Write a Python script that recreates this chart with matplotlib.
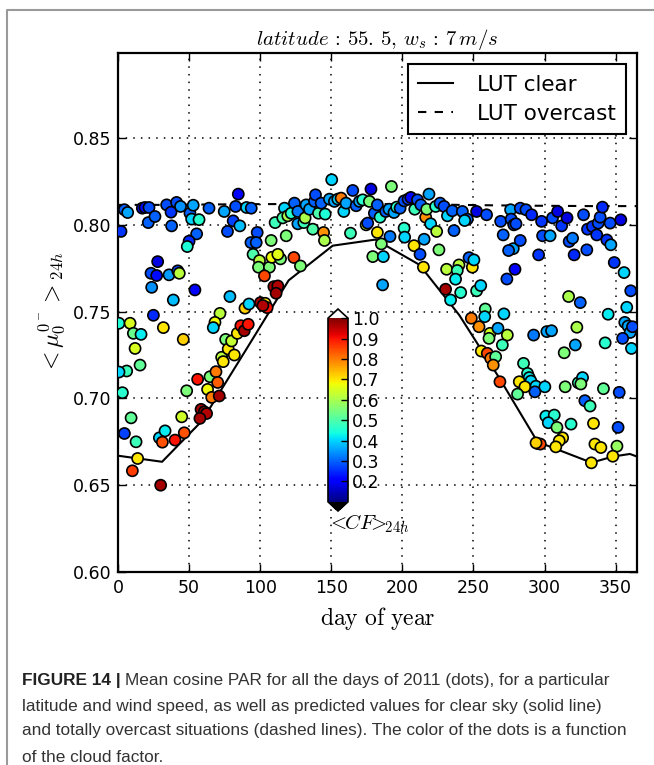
import numpy as np
import matplotlib
matplotlib.use('Agg')
import matplotlib.pyplot as plt
from matplotlib.lines import Line2D

plt.rcParams['mathtext.fontset'] = 'cm'
plt.rcParams['font.family'] = ['DejaVu Sans']

# LUT curves
lut_days = [0, 31, 59, 90, 120, 151, 181, 212, 240, 268, 295, 333, 348, 360, 365]
lut_clear = [0.667, 0.6635, 0.687, 0.728, 0.768, 0.788, 0.7915, 0.777, 0.748,
             0.712, 0.675, 0.663, 0.6665, 0.668, 0.6665]
lut_overcast = [0.8115, 0.8115, 0.8117, 0.8119, 0.812, 0.812, 0.812, 0.8118,
                0.8115, 0.8112, 0.811, 0.8108, 0.8108, 0.8108, 0.8108]

# daily values (dots): day, mean cosine, cloud factor
day_of_year = [
    4.5, 6.8, 17.1, 19.0, 21.8, 21.3, 26.0, 34.2, 37.3, 41.2, 44.0, 37.7, 50.6, 51.8, 57.0,
    55.3, 50.0, 48.7, 52.9, 64.0, 74.7, 81.0, 82.7, 84.6, 85.7, 77.0, 90.4, 93.5, 95.0, 2.1,
    27.9, 23.2, 27.2, 35.9, 42.0, 43.1, 23.7, 38.9, 54.1, 78.7, 24.9, 0.7, 8.5, 10.8, 16.2,
    12.0, 31.9, 45.9, 15.5, 6.1, 0.7, 3.1, 9.2, 4.5, 12.7, 13.8, 10.1, 30.0, 29.1, 33.1,
    31.2, 40.1, 46.6, 44.8, 48.3, 56.0, 58.4, 60.7, 62.3, 57.6, 63.0, 64.7, 65.9, 68.9, 70.1,
    71.2, 72.9, 74.0, 75.7, 77.5, 79.9, 81.8, 83.9, 71.7, 68.2, 67.0, 86.4, 88.8, 91.6, 89.3,
    92.1,
    93.7, 97.9, 97.2, 99.5, 98.8, 106.5, 103.0, 107.7, 110.5, 108.2, 114.3, 112.4, 118.3, 123.7,
    128.3, 109.6, 112.4, 111.2, 100.2, 103.5, 104.9, 101.9, 117.1, 115.9, 119.4, 121.8, 124.1,
    126.5, 126.5, 130.7, 131.6, 132.3, 134.7, 138.2, 138.9, 141.0, 142.9, 137.0, 144.6, 145.2,
    145.7, 148.7, 150.3, 152.2, 154.6, 156.9, 158.8, 160.4, 163.5, 165.1, 167.5, 169.8, 172.1,
    174.5, 175.6, 177.9, 176.8, 179.2, 180.3, 186.1,
    192.3, 182.4, 184.3, 188.3, 190.6, 194.1, 196.0, 198.4, 201.2, 204.0, 205.9, 208.7, 210.6,
    213.0, 216.4, 217.1, 218.7, 219.9, 224.1, 223.4, 226.5, 229.3, 231.7, 235.1, 236.3, 242.2,
    245.7, 243.8, 252.2, 259.2, 269.1, 270.9, 276.1, 276.5, 278.4, 191.3, 201.2, 201.6, 185.2,
    186.6, 182.4, 208.2, 212.4, 215.3, 225.7, 214.8, 231.1, 239.8, 238.6, 237.4, 249.2, 246.9,
    250.3, 230.4, 233.9, 241.0, 252.2, 255.1, 258.3, 257.9, 248.5, 253.9, 261.6, 260.9, 267.2,
    271.4, 273.8, 270.3, 255.5, 259.7, 262.1, 265.6, 263.9, 268.6,
    279.9, 282.9, 286.9, 290.9, 297.9, 298.6, 303.9, 305.6, 309.2, 312.0, 315.8, 317.3, 319.7,
    320.8, 327.4, 329.7, 330.2, 333.7, 336.7, 337.7, 339.1, 340.7, 343.8, 346.1, 346.6, 349.0,
    353.6, 355.9, 360.6, 357.8, 356.4, 358.7, 360.2, 361.8, 354.9, 361.1, 344.7, 342.6, 352.5,
    341.4, 278.0, 274.7, 279.2, 273.5, 282.9, 295.8, 292.3, 301.6, 304.9, 316.9, 325.1, 322.7,
    321.6, 313.8, 285.2, 288.0, 289.2, 290.4, 282.2, 286.2, 281.0, 293.9, 293.2, 300.2, 314.5,
    323.7, 326.7, 325.5, 328.3, 332.0, 300.9, 306.8, 302.6, 308.7, 318.6, 334.4, 351.7, 312.7,
    310.3, 307.9, 335.4, 339.6, 350.9, 295.1, 297.0, 294.0, 332.9, 348.0,
]
mu_24h = [
    0.8087, 0.8071, 0.8096, 0.8100, 0.8100, 0.8013, 0.8048, 0.8115, 0.8073, 0.8129, 0.8106,
    0.7994, 0.8067, 0.8033, 0.8030, 0.7948, 0.7906, 0.7875, 0.8113, 0.8096, 0.8077, 0.8023,
    0.8106, 0.8177, 0.7994, 0.7962, 0.8100, 0.7898, 0.7830, 0.7962, 0.7788, 0.7721, 0.7708,
    0.7712, 0.7735, 0.7721, 0.7640, 0.7567, 0.7625, 0.7587, 0.7479, 0.7433, 0.7433, 0.7375,
    0.7369, 0.7288, 0.7408, 0.7340, 0.7192, 0.7158, 0.7152, 0.7033, 0.6888, 0.6798, 0.6750,
    0.6654, 0.6583, 0.6500, 0.6773, 0.6813, 0.6748, 0.6760, 0.6802, 0.6894, 0.7044, 0.7110,
    0.6937, 0.6923, 0.6913, 0.6885, 0.7052, 0.7125, 0.7006, 0.7154, 0.7092, 0.7014, 0.7237,
    0.7212, 0.7340, 0.7285, 0.7331, 0.7250, 0.7375, 0.7490, 0.7438, 0.7408, 0.7419, 0.7390,
    0.7427, 0.7520, 0.7544,
    0.8096, 0.7956, 0.7898, 0.7794, 0.7756, 0.7756, 0.7706, 0.7910, 0.8013, 0.7813, 0.7804,
    0.7830, 0.7937, 0.7812, 0.7763, 0.7644, 0.7648, 0.7606, 0.7552, 0.7548, 0.7523, 0.7535,
    0.8096, 0.8040, 0.8052, 0.8067, 0.8125, 0.8077, 0.8006, 0.8013, 0.8040, 0.8115, 0.8090,
    0.8135, 0.8173, 0.8067, 0.8125, 0.7975, 0.7956, 0.7910, 0.8062, 0.8148, 0.8260, 0.8135,
    0.8148, 0.8154, 0.8077, 0.8125, 0.7952, 0.8198, 0.8110, 0.8135, 0.8144, 0.8000, 0.8010,
    0.8206, 0.8135, 0.7817, 0.8067, 0.7654,
    0.8221, 0.8115, 0.8044, 0.8077, 0.8090, 0.8071, 0.8102, 0.8096, 0.8138, 0.8148, 0.8158,
    0.8090, 0.8144, 0.8115, 0.8044, 0.8090, 0.8177, 0.8006, 0.7962, 0.8106, 0.8125, 0.8106,
    0.8052, 0.8081, 0.7967, 0.8077, 0.8033, 0.8025, 0.8077, 0.8058, 0.8020, 0.7942, 0.8087,
    0.8033, 0.8000, 0.7933, 0.7981, 0.7929, 0.7890, 0.7817, 0.7956, 0.7880, 0.7830, 0.7917,
    0.7856, 0.7756, 0.7744, 0.7769, 0.7737, 0.7687, 0.7756, 0.7811, 0.7798, 0.7629, 0.7567,
    0.7610, 0.7620, 0.7650, 0.7515, 0.7471, 0.7462, 0.7413, 0.7375, 0.7346, 0.7404, 0.7487,
    0.7365, 0.7308, 0.7273, 0.7260, 0.7231, 0.7240, 0.7192, 0.7096,
    0.8006, 0.8096, 0.8087, 0.8058, 0.8020, 0.7937, 0.7937, 0.8040, 0.8077, 0.7994, 0.8040,
    0.7904, 0.7923, 0.7827, 0.8058, 0.7856, 0.7975, 0.7990, 0.7942, 0.8010, 0.8044, 0.8102,
    0.7913, 0.8010, 0.7885, 0.7783, 0.8029, 0.7725, 0.7620, 0.7525, 0.7438, 0.7417, 0.7380,
    0.7413, 0.7346, 0.7288, 0.7485, 0.7320, 0.7035, 0.7056, 0.7863, 0.7852, 0.7744, 0.7688,
    0.7910, 0.7827, 0.7365, 0.7385, 0.7390, 0.7587, 0.7552, 0.7410, 0.7308, 0.7263, 0.7202,
    0.7144, 0.7120, 0.7100, 0.7096, 0.7067, 0.7025, 0.7070, 0.7038, 0.7067, 0.7067, 0.7090,
    0.7120, 0.7083, 0.6987, 0.6956, 0.6898, 0.6904, 0.6860, 0.6833, 0.6852, 0.6856, 0.6833,
    0.6773, 0.6756, 0.6721, 0.6737, 0.6717, 0.6725, 0.6740, 0.6737, 0.6744, 0.6629, 0.6667,
]
cf_24h = [
    0.30, 0.36, 0.18, 0.20, 0.28, 0.30, 0.30, 0.28, 0.26, 0.28, 0.34, 0.30, 0.30, 0.40, 0.46,
    0.30, 0.25, 0.45, 0.36, 0.30, 0.36, 0.27, 0.28, 0.20, 0.38, 0.28, 0.40, 0.30, 0.50, 0.26,
    0.18, 0.28, 0.22, 0.35, 0.28, 0.62, 0.34, 0.38, 0.20, 0.38, 0.25, 0.45, 0.65, 0.53, 0.42,
    0.65, 0.70, 0.72, 0.52, 0.48, 0.40, 0.46, 0.52, 0.27, 0.48, 0.70, 0.86, 0.97, 0.40, 0.42,
    0.84, 0.90, 0.84, 0.64, 0.55, 0.90, 0.97, 0.98, 0.96, 0.97, 0.68, 0.55, 0.80, 0.80, 0.83,
    0.97, 0.62, 0.70, 0.55, 0.70, 0.63, 0.70, 0.70, 0.62, 0.68, 0.40, 0.90, 0.97, 0.90, 0.72,
    0.40,
    0.30, 0.28, 0.30, 0.62, 0.55, 0.55, 0.85, 0.55, 0.48, 0.68, 0.55, 0.66, 0.55, 0.85, 0.55,
    0.97, 0.96, 0.97, 0.97, 0.70, 0.90, 0.96, 0.40, 0.50, 0.60, 0.46, 0.30, 0.32, 0.36, 0.48,
    0.60, 0.36, 0.36, 0.30, 0.28, 0.50, 0.30, 0.50, 0.78, 0.60, 0.45, 0.36, 0.40, 0.36, 0.40,
    0.80, 0.40, 0.36, 0.48, 0.28, 0.30, 0.36, 0.46, 0.62, 0.28, 0.18, 0.55, 0.55, 0.30, 0.36,
    0.55, 0.30, 0.46, 0.30, 0.36, 0.36, 0.46, 0.30, 0.28, 0.27, 0.20, 0.48, 0.28, 0.30, 0.78,
    0.55, 0.36, 0.40, 0.62, 0.46, 0.30, 0.28, 0.40, 0.30, 0.30, 0.30, 0.30, 0.40, 0.18, 0.28,
    0.28, 0.30, 0.36, 0.28, 0.28, 0.32, 0.46, 0.40, 0.55, 0.40, 0.70, 0.70, 0.28, 0.36, 0.55,
    0.70, 0.62, 0.62, 0.48, 0.42, 0.70, 0.30, 0.40, 0.97, 0.42, 0.46, 0.48, 0.40, 0.52, 0.40,
    0.80, 0.78, 0.65, 0.55, 0.36, 0.40, 0.62, 0.48, 0.70, 0.85, 0.80, 0.52, 0.78, 0.85,
    0.28, 0.28, 0.28, 0.25, 0.26, 0.28, 0.36, 0.28, 0.18, 0.26, 0.18, 0.28, 0.32, 0.25, 0.28,
    0.28, 0.26, 0.26, 0.26, 0.28, 0.28, 0.25, 0.26, 0.28, 0.36, 0.26, 0.18, 0.40, 0.28, 0.40,
    0.36, 0.36, 0.36, 0.28, 0.28, 0.40, 0.42, 0.46, 0.28, 0.52, 0.36, 0.30, 0.20, 0.28, 0.28,
    0.26, 0.32, 0.36, 0.36, 0.60, 0.30, 0.60, 0.36, 0.55, 0.48, 0.46, 0.42, 0.40, 0.70, 0.70,
    0.52, 0.40, 0.30, 0.40, 0.55, 0.48, 0.40, 0.55, 0.30, 0.48, 0.42, 0.46, 0.40, 0.55, 0.46,
    0.70, 0.28, 0.70, 0.70, 0.70, 0.70, 0.70, 0.58, 0.78, 0.85, 0.72, 0.70, 0.70,
]

fig = plt.figure(figsize=(6.54, 7.65), dpi=100)
ax = fig.add_axes([118 / 654, 1 - 572 / 765, 519 / 654, 519 / 765])

ax.plot(lut_days, lut_clear, color='k', lw=1.5, label='LUT clear', zorder=2)
ax.plot(lut_days, lut_overcast, color='k', lw=1.5, dashes=(4, 4), label='LUT overcast', zorder=2)

cmap = plt.get_cmap('jet').copy()
cmap.set_over('white')
cmap.set_under('black')
sc = ax.scatter(day_of_year, mu_24h, c=cf_24h, cmap=cmap, vmin=0.1, vmax=1.0,
                s=64, edgecolors='k', linewidths=1.2, zorder=3)

ax.set_xlim(0, 365)
ax.set_ylim(0.6, 0.899)
ax.set_xticks(np.arange(0, 351, 50))
ax.set_yticks(np.arange(0.60, 0.851, 0.05))
ax.set_yticklabels(['%.2f' % v for v in np.arange(0.60, 0.851, 0.05)])
ax.grid(True, color='k', linestyle=(0, (1, 4)), linewidth=1.1, zorder=0)
ax.set_axisbelow(True)
ax.tick_params(direction='in', top=True, right=True, length=6, width=1,
               labelsize=12.5, pad=5)
for sp in ax.spines.values():
    sp.set_linewidth(1.6)

ax.set_title(r'$latitude\,:\,55.\,5,\,w_s\,:\,7\,m/s$', fontsize=15, pad=6)
ax.set_xlabel(r'$\mathrm{day\ of\ year}$', fontsize=17, labelpad=6)
ax.set_ylabel(r'$<\mu_0^{0^-}>_{24h}$', fontsize=17, labelpad=4)

leg = ax.legend(loc='upper right', fontsize=15.5, fancybox=False, framealpha=1,
                edgecolor='k', handlelength=1.6, handletextpad=1.1,
                labelspacing=0.42, borderaxespad=0.5, borderpad=0.5)
leg.get_frame().set_linewidth(1.5)

# colorbar inside the plot
cax = fig.add_axes([328 / 654, 1 - 511 / 765, 20 / 654, 202 / 765])
cb = fig.colorbar(sc, cax=cax, extend='both', ticks=np.arange(0.2, 1.01, 0.1))
cb.ax.set_yticklabels(['%.1f' % v for v in np.arange(0.2, 1.01, 0.1)])
cb.ax.tick_params(direction='in', length=5, width=1, labelsize=12.5, pad=3)
cb.outline.set_linewidth(1.2)
fig.text(330 / 654, 1 - 524 / 765, r'$\!<\!\!CF\!\!>\!\!{}_{24h}$', fontsize=15,
         ha='left', va='center')

# page frame lines
fig.add_artist(Line2D([7 / 654, 7 / 654, 1.0], [0.0, 1 - 10 / 765, 1 - 10 / 765],
                      transform=fig.transFigure, color='#9a9a9a', lw=1.5))

# caption
cap_font = ['Liberation Sans Narrow', 'Liberation Sans', 'DejaVu Sans']
cap_size = 12.4
cap_lines = [
    'Mean cosine PAR for all the days of 2011 (dots), for a particular',
    'latitude and wind speed, as well as predicted values for clear sky (solid line)',
    'and totally overcast situations (dashed lines). The color of the dots is a function',
    'of the cloud factor.',
]
cap_y = [680, 706, 731, 757]
bold = fig.text(22 / 654, 1 - cap_y[0] / 765, 'FIGURE 14 | ', fontsize=cap_size,
                fontweight='bold', family=cap_font, va='center', color='#222222')
fig.canvas.draw()
bb = bold.get_window_extent()
fig.text(bb.x1 / 654, 1 - cap_y[0] / 765, cap_lines[0], fontsize=cap_size,
         family=cap_font, va='center', color='#333333')
for line, y in zip(cap_lines[1:], cap_y[1:]):
    fig.text(22 / 654, 1 - y / 765, line, fontsize=cap_size, family=cap_font,
             va='center', color='#333333')

fig.savefig('out.png', dpi=100)
